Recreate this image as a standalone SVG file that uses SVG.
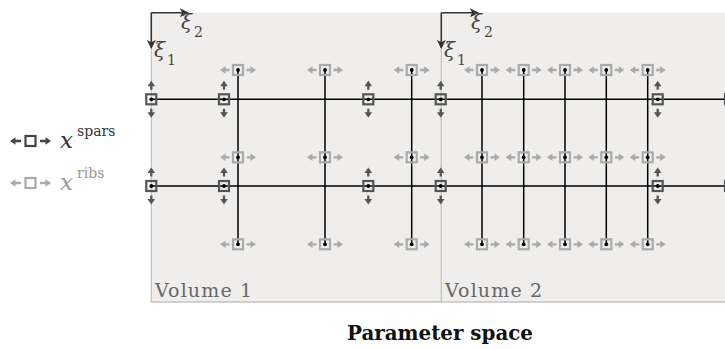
<svg xmlns="http://www.w3.org/2000/svg" width="725" height="349" viewBox="0 0 725 349">
<style>
.vol{fill:#efeeec}
.border{stroke:#c4c4c4;stroke-width:1.3;fill:none}
.spar{stroke:#000;stroke-width:1.5;fill:none}
.rib{stroke:#000;stroke-width:1.5;fill:none}
.axis{stroke:#333;stroke-width:1.5;fill:none}
.lab{font-family:"DejaVu Serif",serif;font-size:19px;fill:#666}
.xi{font-family:"DejaVu Serif",serif;font-style:italic;font-size:20px;fill:#444}
.sub{font-family:"DejaVu Serif",serif;font-size:14px;fill:#444}
.title{font-family:"DejaVu Serif",serif;font-weight:bold;font-size:20px;fill:#111}
.lx{font-family:"DejaVu Serif",serif;font-style:italic;font-size:23px}
.ls{font-family:"DejaVu Serif",serif;font-size:14px}
</style>
<defs>
<marker id="ah" viewBox="0 0 10 10" refX="9" refY="5" markerWidth="9" markerHeight="9" markerUnits="userSpaceOnUse" orient="auto">
<path d="M0,0 L10,5 L0,10 L2.5,5Z" fill="#333"/>
</marker>
<g id="sparN">
<rect x="-5" y="-5" width="10" height="10" fill="none" stroke="#555" stroke-width="2.2"/>
<circle r="1.9" fill="#000"/>
<path d="M0,-9.5V-14M0,9.5V14" stroke="#555" stroke-width="2.3"/>
<path d="M0,-18.5L-3.8,-13L3.8,-13ZM0,18.5L-3.8,13L3.8,13Z" fill="#555"/>
</g>
<g id="ribN">
<rect x="-5" y="-5" width="10" height="10" fill="none" stroke="#aaa" stroke-width="2.2"/>
<circle r="1.9" fill="#000"/>
<path d="M-8.5,0H-13M8.5,0H13" stroke="#aaa" stroke-width="2.3"/>
<path d="M-18,0L-12.5,-3.8L-12.5,3.8ZM18,0L12.5,-3.8L12.5,3.8Z" fill="#aaa"/>
</g>
</defs>

<g id="volumes">
<rect class="vol" x="151.3" y="12.5" width="290" height="289.5"/>
<rect class="vol" x="441.3" y="12.5" width="290" height="289.5"/>
<path class="border" d="M151.3,12.5V302H731M441.3,12.5V302"/>
</g>

<g id="axes">
<path class="axis" d="M151.3,12.7H188" marker-end="url(#ah)"/>
<path class="axis" d="M151.3,12.7V48" marker-end="url(#ah)"/>
<path class="axis" d="M441.3,12.7H478" marker-end="url(#ah)"/>
<path class="axis" d="M441.3,12.7V48" marker-end="url(#ah)"/>
<text class="xi" x="181" y="29">ξ</text><text class="sub" x="194" y="37">2</text>
<text class="xi" x="154" y="57">ξ</text><text class="sub" x="167" y="65">1</text>
<text class="xi" x="471" y="29">ξ</text><text class="sub" x="484" y="37">2</text>
<text class="xi" x="444" y="57">ξ</text><text class="sub" x="457" y="65">1</text>
</g>

<g id="connectors">
<path class="spar" d="M151.3,99.3H731M151.3,186H731"/>
<path class="rib" d="M238,70V244.3M325,70V244.3M411.7,70V244.3M482,70V244.3M523.7,70V244.3M565,70V244.3M606.3,70V244.3M647.7,70V244.3"/>
</g>

<g id="spar-nodes">
<g id="s1a"><use href="#sparN" x="151.3" y="99.3"/></g>
<g id="s1b"><use href="#sparN" x="224" y="99.3"/></g>
<g id="s1c"><use href="#sparN" x="368.3" y="99.3"/></g>
<g id="s1d"><use href="#sparN" x="440.7" y="99.3"/></g>
<g id="s1e"><use href="#sparN" x="657.7" y="99.3"/></g>
<g id="s1f"><use href="#sparN" x="730" y="99.3"/></g>
<g id="s2a"><use href="#sparN" x="151.3" y="186"/></g>
<g id="s2b"><use href="#sparN" x="224" y="186"/></g>
<g id="s2c"><use href="#sparN" x="368.3" y="186"/></g>
<g id="s2d"><use href="#sparN" x="440.7" y="186"/></g>
<g id="s2e"><use href="#sparN" x="657.7" y="186"/></g>
<g id="s2f"><use href="#sparN" x="730" y="186"/></g>
</g>

<g id="rib-nodes">
<g id="r1a"><use href="#ribN" x="238" y="70"/></g>
<g id="r1b"><use href="#ribN" x="325" y="70"/></g>
<g id="r1c"><use href="#ribN" x="411.7" y="70"/></g>
<g id="r1d"><use href="#ribN" x="482" y="70"/></g>
<g id="r1e"><use href="#ribN" x="523.7" y="70"/></g>
<g id="r1f"><use href="#ribN" x="565" y="70"/></g>
<g id="r1g"><use href="#ribN" x="606.3" y="70"/></g>
<g id="r1h"><use href="#ribN" x="647.7" y="70"/></g>
<g id="r2a"><use href="#ribN" x="238" y="157.3"/></g>
<g id="r2b"><use href="#ribN" x="325" y="157.3"/></g>
<g id="r2c"><use href="#ribN" x="411.7" y="157.3"/></g>
<g id="r2d"><use href="#ribN" x="482" y="157.3"/></g>
<g id="r2e"><use href="#ribN" x="523.7" y="157.3"/></g>
<g id="r2f"><use href="#ribN" x="565" y="157.3"/></g>
<g id="r2g"><use href="#ribN" x="606.3" y="157.3"/></g>
<g id="r2h"><use href="#ribN" x="647.7" y="157.3"/></g>
<g id="r3a"><use href="#ribN" x="238" y="244.3"/></g>
<g id="r3b"><use href="#ribN" x="325" y="244.3"/></g>
<g id="r3c"><use href="#ribN" x="411.7" y="244.3"/></g>
<g id="r3d"><use href="#ribN" x="482" y="244.3"/></g>
<g id="r3e"><use href="#ribN" x="523.7" y="244.3"/></g>
<g id="r3f"><use href="#ribN" x="565" y="244.3"/></g>
<g id="r3g"><use href="#ribN" x="606.3" y="244.3"/></g>
<g id="r3h"><use href="#ribN" x="647.7" y="244.3"/></g>
</g>

<g id="legend">
<g id="leg-spars">
<rect x="25.5" y="136" width="10" height="10" fill="none" stroke="#444" stroke-width="2.2"/>
<path d="M15,141H21M40,141H46" stroke="#444" stroke-width="2.3"/>
<path d="M10,141L15.5,137.2L15.5,144.8ZM51,141L45.5,137.2L45.5,144.8Z" fill="#444"/>
<text class="lx" x="60" y="148" fill="#333">x</text><text class="ls" x="77" y="136" fill="#333">spars</text>
</g>
<g id="leg-ribs">
<rect x="25.5" y="178" width="10" height="10" fill="none" stroke="#aaa" stroke-width="2.2"/>
<path d="M15,183H21M40,183H46" stroke="#aaa" stroke-width="2.3"/>
<path d="M10,183L15.5,179.2L15.5,186.8ZM51,183L45.5,179.2L45.5,186.8Z" fill="#aaa"/>
<text class="lx" x="60" y="190" fill="#999">x</text><text class="ls" x="77" y="178" fill="#999">ribs</text>
</g>
</g>

<g id="labels">
<text class="lab" x="155" y="297" textLength="97" lengthAdjust="spacing">Volume 1</text>
<text class="lab" x="445" y="297" textLength="97" lengthAdjust="spacing">Volume 2</text>
<text class="title" x="347" y="340" textLength="186" lengthAdjust="spacingAndGlyphs">Parameter space</text>
</g>
</svg>
